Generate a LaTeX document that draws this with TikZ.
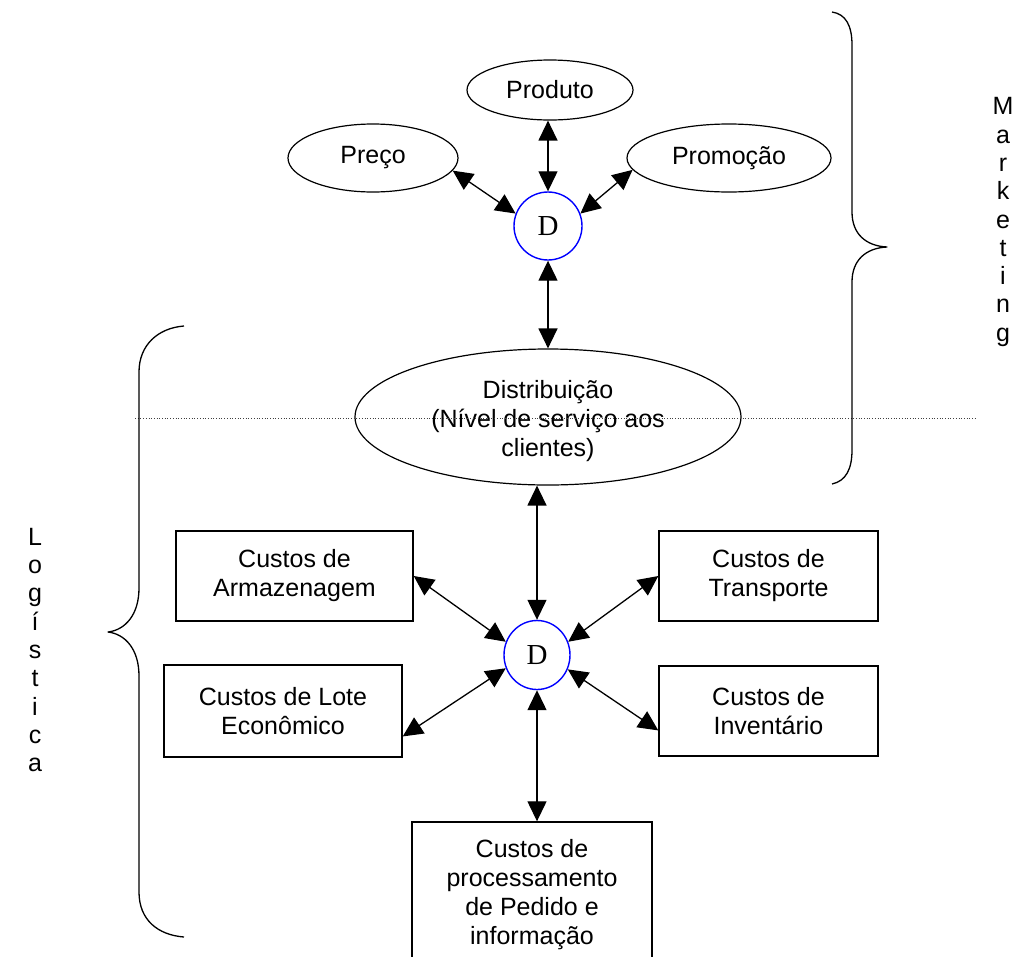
\documentclass[tikz,border=0pt]{standalone}
\usepackage{fontspec}
\setmainfont{Liberation Sans}
\newfontfamily\dfont{Liberation Serif}
\usetikzlibrary{arrows.meta,shapes.geometric}
\definecolor{dblue}{RGB}{0,0,255}
\begin{document}
\begin{tikzpicture}[x=1pt,y=-1pt,
  txt/.style={font=\fontsize{25}{29}\selectfont, align=center},
  oval/.style={ellipse, draw, line width=1.2pt, inner sep=0pt, txt},
  dcirc/.style={ellipse, draw=dblue, line width=1.4pt, inner sep=0pt, font=\dfont\fontsize{29}{30}\selectfont},
  box/.style={rectangle, draw, line width=1.4pt, inner sep=0pt, txt},
  conn/.style={line width=1.3pt, {Triangle[length=20pt,width=19pt]}-{Triangle[length=20pt,width=19pt]}},
  brace/.style={line width=1.3pt, line join=round},
  vtext/.style={font=\fontsize{25}{28.3}\selectfont, align=center, inner sep=0pt},
  dotline/.style={line width=0.7pt, dotted, black!75}]
\useasboundingbox (0,0) rectangle (1017,956);

% marketing part
\node[oval, minimum width=166pt, minimum height=60pt] (produto) at (550,90) {Produto};
\node[oval, minimum width=170pt, minimum height=68pt] (preco) at (373,158) {Preço};
\node[oval, minimum width=204pt, minimum height=68pt] (promo) at (729,158) {Promoção};
\node[dcirc, minimum width=68pt, minimum height=68pt] (d1) at (548,226) {D};
\node[oval, minimum width=386pt, minimum height=136pt] (dist) at (548,417) {\rule{0pt}{26pt}Distribuição\\(Nível de serviço aos\\clientes)};

% logistics part
\node[dcirc, minimum width=66pt, minimum height=69pt] (d2) at (537,655) {D};
\node[box, minimum width=237pt, minimum height=90pt] (arm) at (294.5,576) {Custos de\\Armazenagem};
\node[box, minimum width=219pt, minimum height=90pt] (trans) at (768.5,576) {Custos de\\Transporte};
\node[box, minimum width=238pt, minimum height=92pt] (lote) at (283,711) {Custos de Lote\\Econômico};
\node[box, minimum width=219pt, minimum height=90pt] (inv) at (768.5,711) {Custos de\\Inventário};
\node[box, minimum width=240pt, minimum height=146pt] (ped) at (532,895) {Custos de\\processamento\\de Pedido e\\informação};

% connectors
\draw[conn] (preco.-9) -- (d1.159);
\draw[conn] (promo.187) -- (d1.21);
\draw[conn] (d1.north |- produto.south) -- (d1.north);
\draw[conn] (d1.south) -- (dist.north);
\draw[conn] (dist.south -| d2.north) -- (d2.north);
\draw[conn] (arm.east) -- (d2.157);
\draw[conn] (trans.west) -- (d2.23);
\draw[conn] (lote.-12) -- (d2.203);
\draw[conn] (inv.190) -- (d2.-25);
\draw[conn] (d2.south) -- (d2.south |- ped.north);

% dotted separator
\coordinate (dl) at (135,418);
\coordinate (dr) at (977,418);
\draw[dotline] (dl) -- (dr);

% braces
\draw[brace] (832,12) .. controls (846,14) and (852,26) .. (852,45) -- (852,212)
  .. controls (852,234) and (866,246) .. (887,247)
  .. controls (866,248) and (852,260) .. (852,282) -- (852,450)
  .. controls (852,469) and (846,481) .. (832,484);
\draw[brace] (184,326) .. controls (158,328) and (139,345) .. (139,372) -- (139,588)
  .. controls (139,615) and (125,630) .. (108,632)
  .. controls (125,634) and (139,649) .. (139,676) -- (139,892)
  .. controls (139,920) and (158,935) .. (184,937);

% vertical labels
\node[vtext] (mkt) at (1003,222) {M\\a\\r\\k\\e\\t\\i\\n\\g};
\node[vtext] (log) at (35,650) {L\\o\\g\\í\\s\\t\\i\\c\\a};
\end{tikzpicture}
\end{document}
